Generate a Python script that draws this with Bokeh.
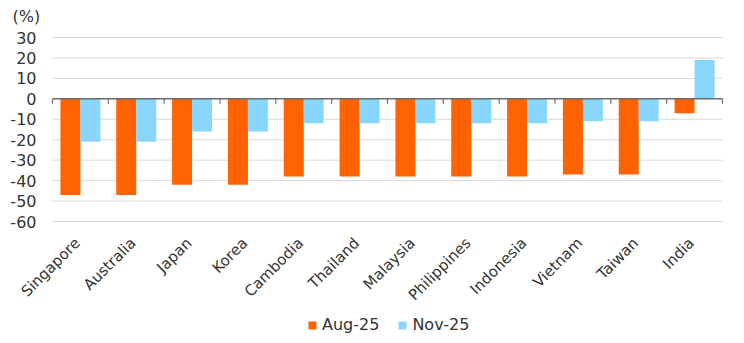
import math
from bokeh.plotting import figure
from bokeh.models import (Range1d, Legend, LegendItem, Label, ColumnDataSource)
from bokeh.core.properties import value
from bokeh.embed import file_html
from bokeh.resources import INLINE

countries = ["Singapore", "Australia", "Japan", "Korea", "Cambodia", "Thailand",
             "Malaysia", "Philippines", "Indonesia", "Vietnam", "Taiwan", "India"]
aug25 = [-47, -47, -42, -42, -38, -38, -38, -38, -38, -37, -37, -7]
nov25 = [-21, -21, -16, -16, -12, -12, -12, -12, -12, -11, -11, 19]
y_ticks = [-60, -50, -40, -30, -20, -10, 0, 10, 20, 30]
y_tick_labels = ["-60", "-50", "-40", "-30", "-20", "-10", "0", "10", "20", "30"]
series_labels = ["Aug-25", "Nov-25"]
unit_label = "(%)"

ORANGE = "#FF6200"
BLUE = "#89D6FD"
FONT = "DejaVu Sans"
TEXT_COLOR = "#333333"
GRID = "#d9d9d9"
AXIS = "#6b6b6b"

W, H = 744, 343
FRAME_L, FRAME_R, FRAME_T, FRAME_B = 52, 722, 37, 221   # plot area in pixels

n = len(countries)
y_lo, y_hi = y_ticks[0], y_ticks[-1]
px_x = (FRAME_R - FRAME_L) / n
px_y = (FRAME_B - FRAME_T) / (y_hi - y_lo)
x_range = Range1d(-FRAME_L / px_x, n + (W - FRAME_R) / px_x)
y_range = Range1d(y_lo - (H - FRAME_B) / px_y, y_hi + FRAME_T / px_y)

centers = [i + 0.5 for i in range(n)]
BAR_W = 0.358

src = ColumnDataSource(dict(
    x_aug=[c - BAR_W / 2 for c in centers],
    x_nov=[c + BAR_W / 2 for c in centers],
    aug=aug25,
    nov=nov25,
))

p = figure(width=W, height=H, x_range=x_range, y_range=y_range, title=None,
           output_backend="svg", toolbar_location=None,
           x_axis_location=None, y_axis_location=None,
           min_border=0)
p.outline_line_color = None
p.grid.visible = False
p.background_fill_color = "white"
p.border_fill_color = "white"

# gridlines (not at zero)
grid_ticks = [t for t in y_ticks if t != 0]
p.segment(x0=[0] * len(grid_ticks), x1=[n] * len(grid_ticks),
          y0=grid_ticks, y1=grid_ticks, line_color=GRID, line_width=1)

r1 = p.vbar(x="x_aug", top="aug", bottom=0, width=BAR_W, source=src,
            fill_color=ORANGE, line_color=None)
r2 = p.vbar(x="x_nov", top="nov", bottom=0, width=BAR_W, source=src,
            fill_color=BLUE, line_color=None)

# zero axis line and category boundary ticks
p.segment(x0=[0], x1=[n], y0=[0], y1=[0], line_color=AXIS, line_width=1.5)
bounds = list(range(n + 1))
tick_len = 5 / px_y
p.segment(x0=bounds, y0=[0] * len(bounds), x1=bounds,
          y1=[-tick_len] * len(bounds), line_color=AXIS, line_width=1.2)

# y tick labels
p.text(x=[-16 / px_x] * len(y_ticks), y=y_ticks, text=y_tick_labels,
       text_font=value(FONT), text_font_size=value("16px"),
       text_color=TEXT_COLOR, text_align="right", text_baseline="middle")

# category labels, rotated 45 degrees
label_y = y_lo - 19 / px_y
p.text(x=[c - 3 / px_x for c in centers], y=[label_y] * n, text=countries,
       angle=math.pi / 4, text_font=value(FONT), text_font_size=value("15px"),
       text_color=TEXT_COLOR, text_align="right", text_baseline="middle")

# unit label
p.add_layout(Label(x=-40 / px_x, y=y_hi + 21 / px_y, text=unit_label,
                   text_font=FONT, text_font_size="16px",
                   text_color=TEXT_COLOR, text_baseline="middle"))

# legend
legend = Legend(items=[LegendItem(label=series_labels[0], renderers=[r1]),
                       LegendItem(label=series_labels[1], renderers=[r2])],
                orientation="horizontal", location=(307, 9))
legend.label_text_font = FONT
legend.label_text_font_size = "16px"
legend.label_text_color = TEXT_COLOR
legend.glyph_width = 10
legend.glyph_height = 10
legend.label_standoff = 5
legend.spacing = 18
legend.padding = 0
legend.margin = 0
legend.border_line_color = None
legend.background_fill_alpha = 0
p.add_layout(legend, "center")

open("out.html", "w").write(file_html(p, INLINE))
